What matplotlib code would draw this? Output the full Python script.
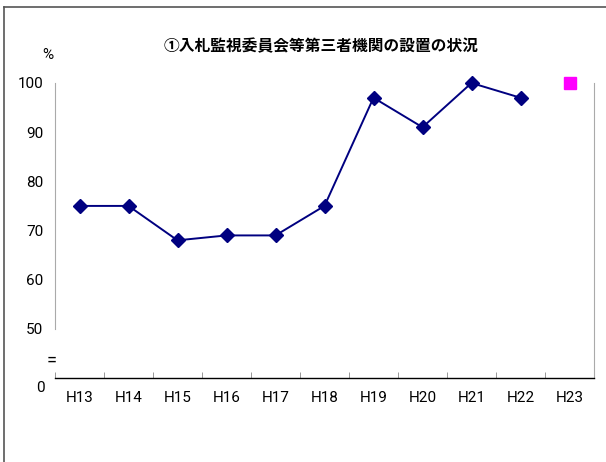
import matplotlib
matplotlib.use("Agg")
import matplotlib.pyplot as plt
from matplotlib.lines import Line2D
from matplotlib.ticker import FixedLocator

plt.rcParams['font.family'] = ['Noto Sans CJK JP', 'DejaVu Sans']
NUMFONT = ['Roboto', 'DejaVu Sans']

categories = ["H13", "H14", "H15", "H16", "H17", "H18", "H19", "H20", "H21", "H22", "H23"]
series_main = [75, 75, 68, 69, 69, 75, 97, 91, 100, 97]
series_h23 = [100]
y_ticks = [50, 60, 70, 80, 90, 100]
title = "①入札監視委員会等第三者機関の設置の状況"

fig = plt.figure(figsize=(6.06, 4.62), dpi=100)
ax = fig.add_axes([55/606, 1-378/462, (594-55)/606, (378-83)/462])

x_main = list(range(len(series_main)))
ax.plot(x_main, series_main, color="#000080", lw=1.4, marker="D", markersize=7.5,
        markerfacecolor="#000080", markeredgecolor="#000080", clip_on=False, zorder=3)
ax.plot([len(categories)-1], series_h23, linestyle="none", marker="s", markersize=8,
        color="#FF00FF", clip_on=False, zorder=3)

ax.set_xlim(-0.5, len(categories)-0.5)
ax.set_ylim(40, 100)

ax.set_xticks(range(len(categories)))
ax.set_xticklabels(categories, fontsize=11, family=NUMFONT)
ax.tick_params(axis='x', which='major', length=0, pad=9)
ax.xaxis.set_minor_locator(FixedLocator([i - 0.5 for i in range(len(categories))]))
ax.tick_params(axis='x', which='minor', direction='in', length=4, color='#888888')

ax.set_yticks(y_ticks)
ax.set_yticklabels([str(v) for v in y_ticks], fontsize=11, family=NUMFONT)
ax.tick_params(axis='y', which='major', length=0, pad=8.5)
ax.yaxis.set_minor_locator(FixedLocator([90]))
ax.tick_params(axis='y', which='minor', direction='in', length=3, color='#888888')

ax.spines['top'].set_visible(False)
ax.spines['left'].set_bounds(50, 100)
ax.spines['left'].set_color('#aaaaaa')
ax.spines['right'].set_color('#aaaaaa')
ax.spines['bottom'].set_color('#000000')
ax.spines['bottom'].set_linewidth(1.0)

fig.text(321/606, 1-46/462, title, ha='center', va='center', fontsize=11.3, fontweight='bold')
fig.text(48/606, 1-55/462, "%", ha='center', va='center', fontsize=11, family=NUMFONT)
fig.text(45/606, 1-388/462, "0", ha='right', va='center', fontsize=11, family=NUMFONT)
fig.text(52/606, 1-361/462, "=", ha='center', va='center', fontsize=13, family=NUMFONT)

# outer frame (top and left edges of the chart area)
fig.add_artist(Line2D([4/606, 1], [1-7/462, 1-7/462], color='#555555', lw=1.2))
fig.add_artist(Line2D([4/606, 4/606], [0, 1-7/462], color='#555555', lw=1.2))

fig.savefig("out.png", dpi=100)
